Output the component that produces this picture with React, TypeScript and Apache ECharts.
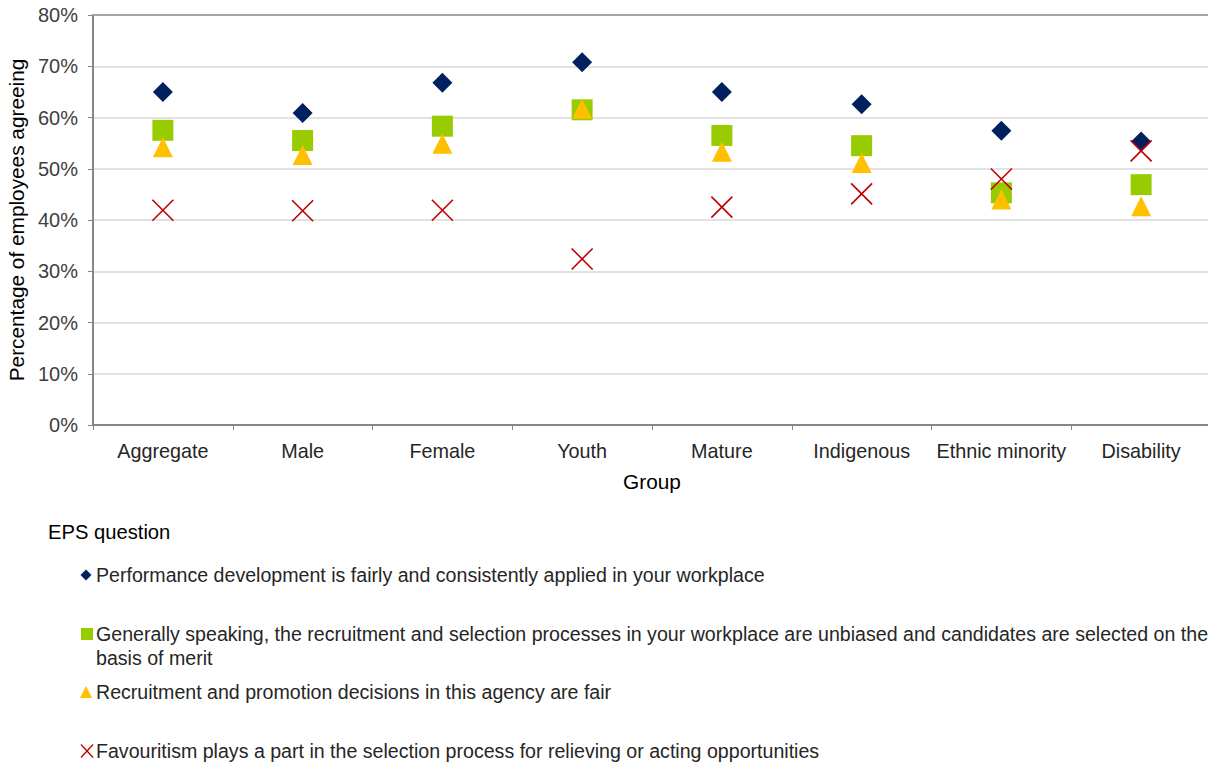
import React, { useEffect, useRef } from "react";
import * as echarts from "echarts";

const categories = ["Aggregate", "Male", "Female", "Youth", "Mature", "Indigenous", "Ethnic minority", "Disability"];
const yTicks = [0, 10, 20, 30, 40, 50, 60, 70, 80];
const performance = [65.0, 60.9, 66.8, 70.8, 65.0, 62.6, 57.4, 55.3];
const recruitment = [57.5, 55.5, 58.3, 61.5, 56.5, 54.5, 45.3, 46.9];
const promotion = [54.2, 52.7, 54.9, 61.7, 53.3, 51.1, 44.0, 42.7];
const favouritism = [41.9, 41.8, 41.9, 32.4, 42.5, 45.1, 48.0, 53.5];
const seriesNames = [
  "Performance development is fairly and consistently applied in your workplace",
  "Generally speaking, the recruitment and selection processes in your workplace are unbiased and candidates are selected on the\nbasis of merit",
  "Recruitment and promotion decisions in this agency are fair",
  "Favouritism plays a part in the selection process for relieving or acting opportunities",
];

const FONT = "Liberation Sans, Arial, sans-serif";
const C_DIAMOND = "#002060";
const C_SQUARE = "#99CC00";
const C_TRI = "#FFC000";
const C_X = "#C00000";

export default function App() {
  const ref = useRef<HTMLDivElement>(null);
  useEffect(() => {
    if (!ref.current) return;
    const chart = echarts.init(ref.current, null, { renderer: "svg" });
    const legendX = 96;
    const legendYs = [575, 634, 692, 751];
    const textStyle = { fill: "#262626", fontSize: 19.6, fontFamily: FONT };
    chart.setOption({
      animation: false,
      textStyle: { fontFamily: FONT },
      grid: { left: 93, top: 15, right: -3, bottom: 339, containLabel: false, outerBoundsMode: "none" },
      xAxis: [
        {
          type: "category",
          data: categories,
          name: "Group",
          nameLocation: "middle",
          nameGap: 46,
          nameTextStyle: { color: "#000", fontSize: 20.8, fontFamily: FONT },
          axisLine: { lineStyle: { color: "#868686", width: 2 } },
          axisTick: { show: true, length: 5, lineStyle: { color: "#868686", width: 1 }, alignWithLabel: false },
          axisLabel: { color: "#262626", fontSize: 19.8, margin: 16, interval: 0 },
          splitLine: { show: false },
        },
        {
          type: "category",
          data: categories,
          position: "top",
          axisLine: { show: true, lineStyle: { color: "#a6a6a6", width: 2 } },
          axisTick: { show: false },
          axisLabel: { show: false },
          splitLine: { show: false },
        },
      ],
      yAxis: {
        type: "value",
        min: yTicks[0],
        max: yTicks[yTicks.length - 1],
        interval: 10,
        name: "Percentage of employees agreeing",
        nameLocation: "middle",
        nameGap: 65,
        nameTextStyle: { color: "#000", fontSize: 20.8, fontFamily: FONT },
        axisLine: { show: true, lineStyle: { color: "#868686", width: 2 } },
        axisTick: { show: true, length: 5, lineStyle: { color: "#868686", width: 1 } },
        axisLabel: { color: "#404040", fontSize: 20, margin: 15, formatter: "{value}%" },
        splitLine: { show: true, lineStyle: { color: "#d9d9d9", width: 1.5 } },
      },
      series: [
        {
          name: seriesNames[0],
          type: "scatter",
          data: performance,
          symbol: "diamond",
          symbolSize: 20,
          itemStyle: { color: C_DIAMOND, opacity: 1 },
        },
        {
          name: seriesNames[1],
          type: "scatter",
          data: recruitment,
          symbol: "rect",
          symbolSize: 21,
          itemStyle: { color: C_SQUARE, opacity: 1 },
        },
        {
          name: seriesNames[2],
          type: "scatter",
          data: promotion,
          symbol: "triangle",
          symbolSize: 20,
          itemStyle: { color: C_TRI, opacity: 1 },
        },
        {
          name: seriesNames[3],
          type: "scatter",
          data: favouritism,
          symbol: "path://M0,0L20,20M20,0L0,20",
          symbolSize: 21,
          itemStyle: { color: "none", borderColor: C_X, borderWidth: 1.6, opacity: 1 },
        },
      ],
      graphic: [
        { type: "text", left: 48, top: 522, style: { text: "EPS question", fill: "#000", fontSize: 20.2, fontFamily: FONT } },
        {
          type: "polygon",
          shape: { points: [[86, legendYs[0] - 5.5], [91.5, legendYs[0]], [86, legendYs[0] + 5.5], [80.5, legendYs[0]]] },
          style: { fill: C_DIAMOND },
        },
        { type: "rect", shape: { x: 81, y: legendYs[1] - 6, width: 12, height: 12 }, style: { fill: C_SQUARE } },
        {
          type: "polygon",
          shape: { points: [[86, legendYs[2] - 6], [92, legendYs[2] + 6], [80, legendYs[2] + 6]] },
          style: { fill: C_TRI },
        },
        { type: "line", shape: { x1: 81, y1: legendYs[3] - 6.5, x2: 93, y2: legendYs[3] + 6.5 }, style: { stroke: C_X, lineWidth: 1.3 } },
        { type: "line", shape: { x1: 93, y1: legendYs[3] - 6.5, x2: 81, y2: legendYs[3] + 6.5 }, style: { stroke: C_X, lineWidth: 1.3 } },
        ...seriesNames.map((n, i) => ({
          type: "text",
          x: legendX,
          y: legendYs[i] - 12,
          style: { ...textStyle, text: n, lineHeight: 24, verticalAlign: "top" },
        })),
      ],
    });
    return () => chart.dispose();
  }, []);
  return <div ref={ref} style={{ position: "fixed", left: 0, top: 0, width: 1208, height: 764, background: "#fff" }} />;
}
